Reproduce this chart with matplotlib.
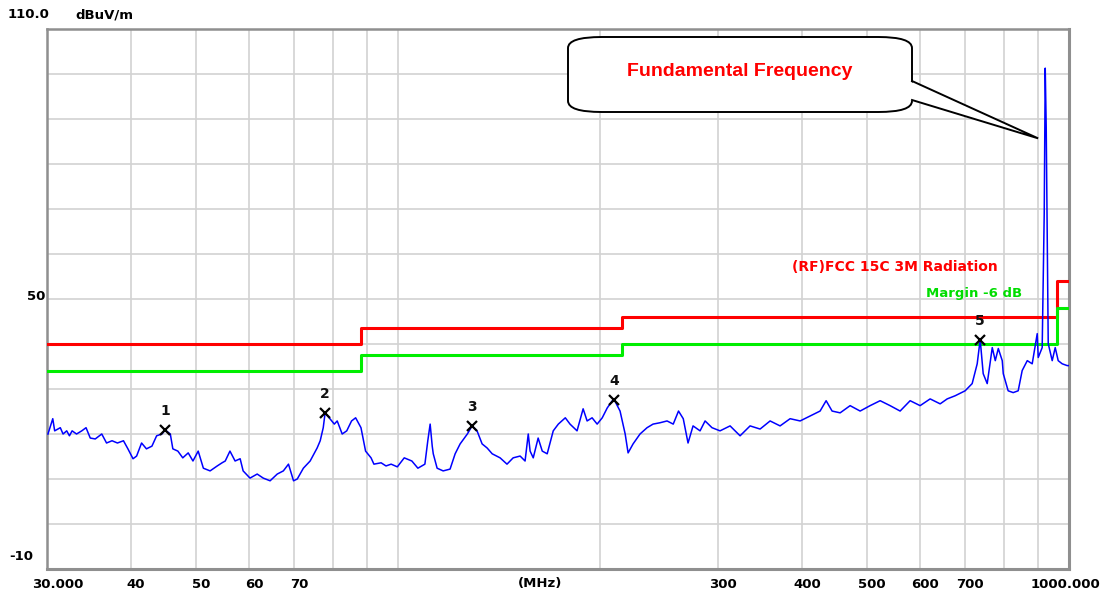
import matplotlib
matplotlib.use("Agg")
import matplotlib.pyplot as plt
from matplotlib.patches import FancyBboxPatch, Polygon
import numpy as np

# ---------------- data ----------------
freq_mhz = [30.1, 30.6, 30.8, 31.4, 31.7, 32.1, 32.4, 32.7, 33.2, 33.8, 34.3, 34.8, 35.4, 36.2, 36.8,
            37.5, 38.2, 39.0, 39.6, 40.3, 40.8, 41.5, 42.2, 43.0, 43.7, 44.5, 45.0, 45.8, 46.2, 47.0,
            47.8, 48.7, 49.5, 50.4, 51.3, 52.5, 53.8, 54.7, 55.3, 56.2, 57.2, 58.2, 58.8, 60.2, 61.7,
            63.0, 64.5, 66.1, 67.5, 68.7, 69.9, 70.8, 72.3, 74.0, 75.8, 76.6, 77.4, 77.9, 79.2, 80.4,
            81.2, 82.6, 83.9, 85.3, 86.5, 88.1, 89.5, 91.2, 92.1, 94.4, 96.0, 97.7, 99.8, 102.2, 104.9,
            107.1, 109.7, 110.8, 111.7, 112.5, 112.9, 114.4, 116.8, 119.6, 121.7, 123.8, 126.9, 129.0, 131.2, 133.5,
            135.8, 138.2, 142.0, 145.4, 148.5, 152.1, 154.7, 156.4, 157.4, 159.1, 161.8, 164.1, 166.9, 170.4, 173.4,
            177.6, 180.5, 184.9, 188.8, 191.4, 194.7, 198.1, 201.6, 205.1, 208.7, 210.1, 214.3, 218.1, 220.3, 224.1,
            229.5, 235.1, 240.0, 245.8, 251.8, 257.2, 261.9, 266.2, 270.6, 275.3, 282.0, 286.9, 293.8, 302.0, 312.6,
            323.5, 334.8, 346.5, 358.6, 371.1, 384.1, 397.5, 411.4, 425.7, 434.6, 443.6, 456.0, 471.9, 488.4, 505.4,
            523.1, 541.3, 560.2, 579.8, 600.0, 621.0, 642.7, 658.4, 676.7, 700.2, 717.3, 729.8, 737.3, 745.0, 755.3,
            768.5, 776.5, 784.6, 795.3, 798.1, 811.6, 825.7, 840.0, 851.6, 866.6, 881.4, 896.7, 899.8, 912.1, 918.5,
            921.7, 924.8, 928.0, 931.2, 944.0, 953.8, 963.6, 976.9, 993.8, 1000.0]

level_dbuv = [20.0, 23.4, 20.7, 21.4, 20.0, 20.7, 19.6, 20.7, 20.0, 20.7, 21.4, 19.1, 18.9, 20.0, 18.0,
              18.5, 18.0, 18.5, 16.7, 14.5, 15.1, 18.0, 16.7, 17.3, 19.6, 20.0, 20.9, 20.0, 16.7, 16.2,
              14.7, 15.8, 14.0, 16.2, 12.4, 11.8, 12.9, 13.6, 14.0, 16.2, 14.0, 14.5, 11.8, 10.2, 11.1,
              10.2, 9.6, 11.1, 11.8, 13.3, 9.6, 10.0, 12.4, 14.0, 16.9, 18.5, 21.4, 24.7, 23.4, 22.2,
              22.9, 20.0, 20.7, 22.9, 23.6, 21.4, 16.2, 14.7, 13.3, 13.6, 12.9, 13.3, 12.7, 14.7, 14.0,
              12.4, 13.3, 18.5, 22.2, 17.3, 15.6, 12.4, 11.8, 12.2, 15.6, 17.8, 20.0, 21.8, 20.7, 17.8,
              16.9, 15.6, 14.7, 13.3, 14.7, 15.1, 14.0, 20.0, 16.2, 14.7, 19.1, 16.2, 15.6, 20.7, 22.2,
              23.6, 22.2, 20.7, 25.6, 22.9, 23.6, 22.2, 23.6, 25.8, 27.4, 27.6, 25.1, 20.0, 15.8, 17.8,
              20.0, 21.4, 22.2, 22.5, 22.9, 22.2, 25.1, 23.4, 18.0, 21.8, 20.7, 22.9, 21.4, 20.7, 21.8,
              19.6, 21.8, 21.1, 22.9, 21.8, 23.4, 22.9, 24.0, 25.1, 27.4, 25.1, 24.7, 26.3, 25.1, 26.3,
              27.4, 26.3, 25.1, 27.4, 26.3, 27.8, 26.7, 27.8, 28.5, 29.6, 31.2, 35.6, 41.0, 33.4, 31.2,
              39.2, 36.3, 39.0, 36.3, 33.4, 29.6, 29.2, 29.6, 34.1, 36.3, 35.6, 42.3, 37.0, 39.2, 69.0,
              101.3, 88.2, 63.0, 40.1, 36.3, 39.2, 36.3, 35.6, 35.2, 35.2]

limit_freq = [30, 88, 216, 960, 1000]
limit_level = [40.0, 43.5, 46.0, 54.0, 54.0]
margin_level = [34.0, 37.5, 40.0, 48.0, 48.0]

marker_ids = ["1", "2", "3", "4", "5"]
marker_freq = [45.0, 77.9, 129.0, 210.1, 737.3]
marker_level = [20.9, 24.7, 21.8, 27.6, 41.0]

xtick_values = [30, 40, 50, 60, 70, 300, 400, 500, 600, 700, 1000]
xtick_labels = ["30.000", "40", "50", "60", "70", "300", "400", "500", "600", "700", "1000.000"]
xgrid_values = [40, 50, 60, 70, 80, 90, 100, 200, 300, 400, 500, 600, 700, 800, 900]
ygrid_values = list(range(-10, 111, 10))

assert len(freq_mhz) == len(level_dbuv)

# ---------------- figure ----------------
W, H = 1105, 597
fig = plt.figure(figsize=(W / 100, H / 100), dpi=100)
ax = fig.add_axes([47 / W, 1 - 569 / H, 1022 / W, 540 / H])
ax.set_xscale("log")
ax.set_xlim(30, 1000)
ax.set_ylim(-10, 110)

for g in xgrid_values:
    ax.axvline(g, color="#d2d2d2", lw=1.2, zorder=0)
for g in ygrid_values:
    ax.axhline(g, color="#d2d2d2", lw=1.2, zorder=0)

ax.set_xticks([])
ax.set_yticks([])
ax.xaxis.set_minor_locator(matplotlib.ticker.NullLocator())
for side, sp in ax.spines.items():
    sp.set_color("#8f8f8f")
    sp.set_linewidth(2.2 if side in ("right", "bottom") else 1.8)

# limit lines
ax.step(limit_freq, limit_level, where="post", color="#ff0000", lw=2.2, zorder=3)
ax.step(limit_freq, margin_level, where="post", color="#00ee00", lw=2.2, zorder=3)

# trace
ax.plot(freq_mhz, level_dbuv, color="#0000ff", lw=1.1, zorder=4)

# markers
ax.plot(marker_freq, marker_level, ls="none", marker="x", ms=7.5, mew=1.6, color="black", zorder=5)
for mid, mf, ml in zip(marker_ids, marker_freq, marker_level):
    ax.annotate(mid, (mf, ml), xytext=(0, 13.5), textcoords="offset points",
                ha="center", va="center", fontsize=10, fontweight="bold",
                family="DejaVu Sans", color="#111111", zorder=6)

# limit labels
ax.text((792 - 47) / 1022, 0.560, "(RF)FCC 15C 3M Radiation", transform=ax.transAxes, color="#ff0000",
        fontsize=10, fontweight="bold", family="DejaVu Sans", ha="left", va="center")
ax.text((926 - 47) / 1022, 0.5095, "Margin -6 dB", transform=ax.transAxes, color="#00dd00",
        fontsize=9.5, fontweight="bold", family="DejaVu Sans", ha="left", va="center")

# callout box
bx0, bx1 = (568 - 47) / 1022, (912 - 47) / 1022
by0, by1 = (569 - 112) / 540, (569 - 37) / 540
box = FancyBboxPatch((bx0, by0), bx1 - bx0, by1 - by0,
                     boxstyle="round,pad=0,rounding_size=0.033", mutation_aspect=0.62,
                     transform=ax.transAxes, facecolor="white", edgecolor="black",
                     lw=1.4, zorder=7)
ax.add_patch(box)
tip_f, tip_db = 899.5, 85.7
tip_ax = ax.transAxes.inverted().transform(ax.transData.transform((tip_f, tip_db)))
pointer_fill = Polygon([(bx1 - 0.003, (569 - 81) / 540), (tip_ax[0], tip_ax[1]),
                        (bx1 - 0.003, (569 - 100) / 540)], closed=True, transform=ax.transAxes,
                       facecolor="white", edgecolor="none", zorder=8)
ax.add_patch(pointer_fill)
ax.plot([bx1, tip_ax[0], bx1], [(569 - 81) / 540, tip_ax[1], (569 - 100) / 540],
        transform=ax.transAxes, color="black", lw=1.4, zorder=9, solid_joinstyle="miter")
ax.text((740 - 47) / 1022, (569 - 72) / 540, "Fundamental Frequency", transform=ax.transAxes,
        color="#ff0000", fontsize=14, fontweight="bold", family="Liberation Sans",
        ha="center", va="center", zorder=10)

# axis labels (outside the axes)
lab_kw = dict(fontsize=9.5, fontweight="bold", family="DejaVu Sans", color="black")
fig.text(8 / W, 1 - 15 / H, "110.0", ha="left", va="center", **lab_kw)
fig.text(75 / W, 1 - 15 / H, "dBuV/m", ha="left", va="center", **lab_kw)
fig.text(27 / W, 1 - 297 / H, "50", ha="left", va="center", **lab_kw)
fig.text(9 / W, 1 - 557 / H, "-10", ha="left", va="center", **lab_kw)

xl_trans = matplotlib.transforms.blended_transform_factory(ax.transData, fig.transFigure)
for v, lab in zip(xtick_values, xtick_labels):
    dx = 5
    if lab == "30.000":
        dx = 11
    elif lab == "1000.000":
        dx = -4
    ax.annotate(lab, (v, 1 - 584 / H), xycoords=xl_trans, xytext=(dx * 0.72, 0),
                textcoords="offset points", ha="center", va="center", **lab_kw)
fig.text(540 / W, 1 - 584 / H, "(MHz)", ha="center", va="center", **lab_kw)

fig.savefig("out.png", dpi=100)
